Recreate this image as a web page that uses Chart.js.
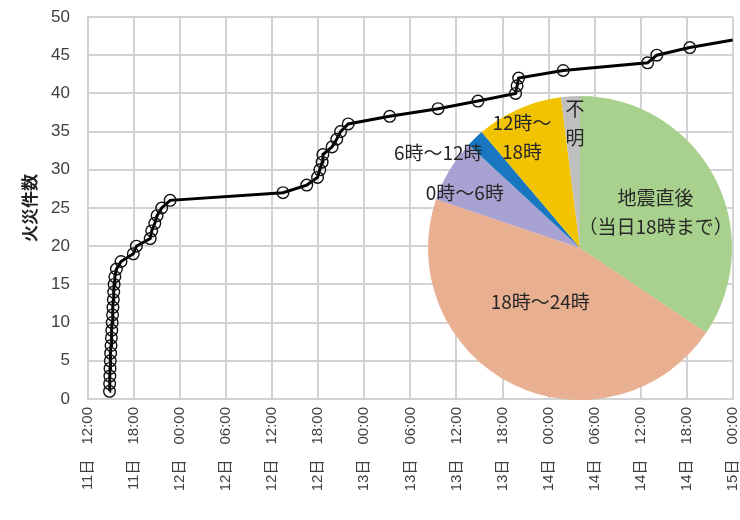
<!DOCTYPE html>
<html>
<head>
<meta charset="utf-8">
<script src="https://cdn.jsdelivr.net/npm/chart.js@4.4.0/dist/chart.umd.min.js"></script>
<style>
  html, body { margin:0; padding:0; background:#fff; }
  #wrap { position:relative; width:740px; height:520px; }
  #wrap canvas { position:absolute; left:0; top:0; }
</style>
</head>
<body>
<div id="wrap">
  <canvas id="chart-line" width="740" height="520"></canvas>
  <canvas id="chart-pie" width="740" height="520"></canvas>
</div>
<script>
// ── Data ───────────────────────────────────────────────────────
// hours since 11日 12:00, cumulative fire count
const fireHours  = [2.8, 2.82, 2.85, 2.87, 2.9, 2.95, 3.0, 3.05, 3.1, 3.15,
                    3.2, 3.25, 3.3, 3.35, 3.4, 3.5, 3.7, 4.3, 5.9, 6.3,
                    8.1, 8.3, 8.7, 9.0, 9.6, 10.7, 25.4, 28.5, 29.9, 30.2,
                    30.5, 30.6, 31.8, 32.4, 32.9, 33.9, 39.3, 45.6, 50.8, 55.7,
                    55.9, 56.1, 61.9, 72.9, 74.1, 78.4, 84];
const fireCounts = [1, 2, 3, 4, 5, 6, 7, 8, 9, 10,
                    11, 12, 13, 14, 15, 16, 17, 18, 19, 20,
                    21, 22, 23, 24, 25, 26, 27, 28, 29, 30,
                    31, 32, 33, 34, 35, 36, 37, 38, 39, 40,
                    41, 42, 43, 44, 45, 46, 47];
const tickLabels = ['11日　12:00','11日　18:00','12日　00:00','12日　06:00','12日　12:00',
                    '12日　18:00','13日　00:00','13日　06:00','13日　12:00','13日　18:00',
                    '14日　00:00','14日　06:00','14日　12:00','14日　18:00','15日　00:00'];

const pieLabels = ['地震直後（当日18時まで）','18時～24時','0時～6時','6時～12時','12時～18時','不明'];
const pieValues = [34.4, 45.8, 6.7, 1.9, 9.2, 2.0];
const pieColors = ['#a9d18e','#e8af90','#a8a2d2','#1877c0','#f2c300','#bfbfbf'];

// label placement: angle clockwise from top (deg), distance as fraction of radius
const pieText = [
  { lines:['地震直後','（当日18時まで）'], ang:64.7, dist:0.55 },
  { lines:['18時～24時'],                 ang:216.5, dist:0.44 },
  { lines:['0時～6時'],                   ang:295.6, dist:0.84 },
  { lines:['6時～12時'],                  ang:304,   dist:1.125 },
  { lines:['12時～','18時'],              ang:332.3, dist:0.82 },
  { lines:['不','明'],                    ang:357.7, dist:0.82 },
];

const FONT = "'Liberation Sans', Arial, 'Noto Sans CJK JP', sans-serif";
const JP   = "'Noto Sans CJK JP', 'Liberation Sans', sans-serif";
const GRID = '#d3d3d3';

// ── Line chart ─────────────────────────────────────────────────
new Chart(document.getElementById('chart-line'), {
  type: 'line',
  data: { datasets: [{
    data: fireHours.map((h, i) => ({ x:h, y:fireCounts[i] })),
    borderColor: '#000', borderWidth: 3, tension: 0,
    pointRadius: fireHours.map((_, i) => i < fireHours.length - 1 ? 5.8 : 0),
    pointBorderColor: '#111', pointBorderWidth: 1.4,
    pointBackgroundColor: 'rgba(0,0,0,0)',
  }]},
  options: {
    responsive: false, animation: false,
    layout: { padding: { top:17, right:7, left:0, bottom:0 } },
    plugins: { legend:{ display:false }, tooltip:{ enabled:false } },
    scales: {
      x: { type:'linear', min:0, max:84,
           ticks: { stepSize:6, autoSkip:false, minRotation:90, maxRotation:90, padding:8,
                    color:'#404040', font:{ family:FONT, size:15 }, callback: v => tickLabels[v / 6] },
           grid: { color:GRID, lineWidth:2, drawTicks:false },
           border: { color:GRID, width:2 },
           afterFit: s => { s.height = 121; s.paddingLeft = 0; s.paddingRight = 0; } },
      y: { min:0, max:50,
           ticks: { stepSize:5, padding:18, color:'#404040', font:{ family:FONT, size:17 } },
           grid: { color:GRID, lineWidth:2, drawTicks:false },
           border: { color:GRID, width:2 },
           title: { display:true, text:'火災件数', color:'#222',
                    font:{ family:JP, size:17, weight:'bold' }, padding:{ top:19, bottom:0 } },
           afterFit: s => { s.width = 88; s.paddingTop = 0; s.paddingBottom = 0; } },
    },
  },
});

// ── Pie inset ──────────────────────────────────────────────────
const pieTextPlugin = {
  id: 'pieText',
  afterDraw(chart) {
    const arc = chart.getDatasetMeta(0).data[0];
    const { x, y, outerRadius } = arc;
    const ctx = chart.ctx;
    ctx.save();
    ctx.font = `19px ${JP}`;
    ctx.fillStyle = '#262626';
    ctx.textAlign = 'center';
    ctx.textBaseline = 'middle';
    pieText.forEach(t => {
      const a  = t.ang * Math.PI / 180;
      const cx = x + Math.sin(a) * t.dist * outerRadius;
      const cy = y - Math.cos(a) * t.dist * outerRadius;
      t.lines.forEach((line, k) => ctx.fillText(line, cx, cy + (k - (t.lines.length - 1) / 2) * 29));
    });
    ctx.restore();
  },
};

new Chart(document.getElementById('chart-pie'), {
  type: 'pie',
  data: { labels: pieLabels, datasets: [{ data: pieValues, backgroundColor: pieColors, borderWidth: 0 }] },
  options: {
    responsive: false, animation: false,
    layout: { padding: { left:428, top:96, right:8, bottom:120 } },
    plugins: { legend:{ display:false }, tooltip:{ enabled:false } },
  },
  plugins: [pieTextPlugin],
});
</script>
</body>
</html>
